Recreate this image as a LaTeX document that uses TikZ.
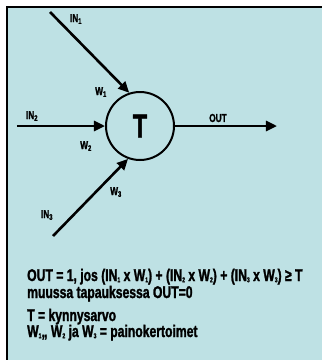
\documentclass[tikz,border=0pt]{standalone}
\usepackage{fontspec}
\setmainfont{Liberation Sans}[FakeStretch=0.72, BoldFeatures={FakeBold=1.5}]
\usetikzlibrary{arrows.meta}
\definecolor{panelblue}{RGB}{190,225,228}
% small index set close to the baseline
\newcommand{\idx}[1]{\raisebox{-1.2pt}{\scriptsize #1}}

\begin{document}
\begin{tikzpicture}[
    x=1pt, y=-1pt,
    neuron/.style={circle, draw, line width=2pt, minimum size=68pt, inner sep=0pt, font=\fontsize{33}{33}\selectfont\bfseries},
    lbl/.style={font=\fontsize{11.5}{11.5}\selectfont\bfseries, inner sep=0pt},
    formula/.style={font=\fontsize{16.9}{17}\selectfont\bfseries, anchor=base west, inner sep=0pt},
    arrow/.style={-{Triangle[length=11pt,width=10pt]}, line width=2.6pt},
]
\useasboundingbox (0,0) rectangle (322,360);
\fill[panelblue] (7,7) rectangle (322,360);
\draw[line width=2pt] (7,360) -- (7,7) -- (322,7);

\node[neuron] (T) at (140,126) {T};
\coordinate (in1) at (50,12);
\coordinate (in2) at (17,126);
\coordinate (in3) at (53,236);
\coordinate (out) at (277,126);

\draw[arrow] (in1) -- (T.108);
\draw[arrow] (in2) -- (T.west);
\draw[arrow] (in3) -- (T.250);
\draw[arrow] (T.east) -- (out);

\node[lbl] (IN1) at (76,19) {IN\textsubscript{1}};
\node[lbl] (IN2) at (32,116) {IN\textsubscript{2}};
\node[lbl] (IN3) at (47,215) {IN\textsubscript{3}};
\node[lbl] (W1) at (101,92) {W\textsubscript{1}};
\node[lbl] (W2) at (86,146) {W\textsubscript{2}};
\node[lbl] (W3) at (116,192) {W\textsubscript{3}};
\node[lbl] (OUT) at (218,118) {OUT};

\node[formula] (rule) at (27,281) {OUT = 1, jos (IN\idx{1} x W\idx{1}) + (IN\idx{2} x W\idx{2}) + (IN\idx{3} x W\idx{3}) ≥ T};
\node[formula] (else) at (27,298) {muussa tapauksessa OUT=0};
\node[formula] (thr) at (27,321) {T = kynnysarvo};
\node[formula] (wts) at (27,337) {W\idx{1},, W\idx{2} ja W\idx{3} = painokertoimet};
\end{tikzpicture}
\end{document}
